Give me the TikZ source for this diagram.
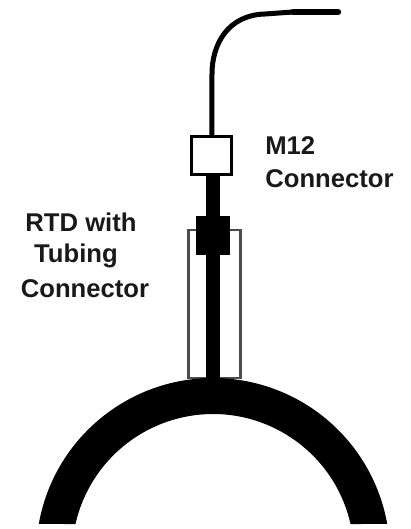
\documentclass[tikz,border=0pt]{standalone}
\usepackage{fontspec}
\setmainfont{Liberation Sans}
\tikzset{
label text/.style={font=\bfseries\fontsize{14.6}{18.7}\selectfont, inner sep=0pt, text=black!90},
m12 body/.style={draw, line width=0.05cm, fill=white, inner sep=0pt, minimum width=0.81cm, minimum height=0.77cm},
tube body/.style={draw=black!70, line width=0.055cm, fill=white, inner sep=0pt, minimum width=1.045cm, minimum height=2.96cm},
tube fitting/.style={fill=black, inner sep=0pt, minimum width=0.68cm, minimum height=0.78cm}
}
\begin{document}
\begin{tikzpicture}[x=0.02cm,y=0.02cm]
\useasboundingbox (0,0) rectangle (411,529);
\coordinate (archcentre) at (213,-26);
\coordinate (archtop) at (213,151);
\coordinate (cablebend) at (293,517);
\coordinate (cableend) at (338,517);
\node[tube body] (tube) at (214.5,225) {};
\node[m12 body] (m12box) at (211.5,373.5) {};
\draw[line width=0.28cm] (m12box.south -| archtop) -- (archtop);
\node[tube fitting] (fitting) at (213,293.5) {};
\draw[line width=0.1cm] (m12box.north -| 212,0) -- (212,455) .. controls (212,485) and (228,514) .. (265,515) -- (cablebend);
\draw[line width=0.13cm, line cap=round] (cablebend) -- (cableend);
\fill[even odd rule] ([shift={(169.9:3.54cm)}]archcentre) arc[start angle=169.9, end angle=10.1, radius=3.54cm]
  -- ([shift={(12.7:2.82cm)}]archcentre) arc[start angle=12.7, end angle=167.3, radius=2.82cm] -- cycle;
\node[label text, anchor=west] (m12label) at (265,383) {M12};
\node[label text, anchor=west] (m12label2) at (265,350) {Connector};
\node[label text] (rtdlabel) at (81,307) {RTD with};
\node[label text] (rtdlabel2) at (76,273) {Tubing};
\node[label text] (rtdlabel3) at (85,240) {Connector};
\end{tikzpicture}
\end{document}
